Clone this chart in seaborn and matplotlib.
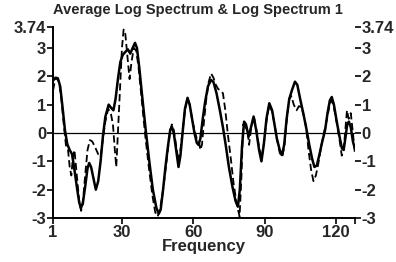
import matplotlib
matplotlib.use("Agg")
import matplotlib.pyplot as plt
import seaborn as sns
import pandas as pd

# --- data ---
avg_freq = [1, 2, 3, 4, 5, 6, 7, 8, 9, 10, 11, 12, 12.7, 13.5, 14.5, 15.5, 16.2, 17, 18,
            19, 20, 21, 22, 23, 24.4, 25.3, 26.4, 27.3, 28.3, 29.3, 30.3, 31.3, 32.5, 33.5,
            34.5, 35.5, 36.3, 37.3, 38.5, 40, 41.5, 43, 44.5, 45.5, 46.3, 47.3, 48.3, 49.3,
            50.3, 51, 51.8, 52.8, 53.8, 54.6, 55.5, 56.5, 57.6, 58.5, 59.5, 60.5, 61.5,
            62.2, 63, 64, 65, 66.2, 67.5, 68.5, 69.8, 71.2, 72.5, 73.8, 75, 76.5, 77.8,
            78.8, 79.6, 80.5, 81.4, 82.2, 83.3, 84.3, 85.4, 86.5, 87.7, 88.7, 89.7, 90.8,
            92, 93.2, 94.2, 95.2, 96.4, 97.4, 98.3, 99.3, 100.4, 101.5, 102.8, 103.8, 105,
            106.3, 107.5, 108.8, 110, 111, 112, 113, 114.3, 115.5, 116.5, 117.5, 118.3,
            119.2, 120.3, 121.5, 122.6, 123.3, 124, 124.8, 125.5, 126.3, 127.2, 128]
avg_vals = [1.85, 1.95, 1.93, 1.65, 0.9, 0.1, -0.4, -0.6, -0.75, -1.3, -1.9, -2.45, -2.65,
            -2.5, -1.9, -1.25, -1.06, -1.2, -1.6, -2.0, -1.7, -1.0, -0.1, 0.57, 1.0, 0.9,
            0.8, 1.2, 1.9, 2.5, 2.75, 2.85, 2.95, 2.8, 3.0, 3.18, 3.0, 2.3, 1.3, 0.1, -1.0,
            -2.0, -2.65, -2.85, -2.7, -2.0, -1.2, -0.5, 0.1, 0.22, 0.0, -0.6, -1.2, -0.8,
            0.0, 0.85, 1.24, 1.0, 0.5, 0.0, -0.35, -0.42, -0.2, 0.5, 1.1, 1.65, 1.87, 1.8,
            1.4, 0.8, 0.2, -0.5, -1.2, -1.9, -2.4, -2.6, -2.0, -0.5, 0.4, 0.3, -0.13, 0.2,
            0.58, 0.1, -0.6, -1.0, -0.4, 0.5, 1.05, 0.8, 0.3, -0.2, -0.6, -0.78, -0.4, 0.5,
            1.2, 1.5, 1.81, 1.7, 1.2, 0.7, 0.2, -0.4, -0.9, -1.2, -1.15, -0.8, -0.3, 0.1,
            0.7, 1.15, 1.27, 1.0, 0.45, -0.1, -0.55, -0.6, -0.2, 0.3, 0.4, 0.2, -0.3, -0.55]

spec1_freq = [1, 1.8, 2.6, 3.5, 4.5, 5.5, 6.5, 7.3, 8, 8.7, 9.3, 10, 11, 12, 12.8, 13.6,
              14.5, 15.5, 16.5, 17.5, 18.7, 20, 21, 22, 23, 24.2, 25.3, 26.2, 27, 27.6,
              28.3, 29.2, 30, 30.7, 31.4, 32.3, 33.2, 34, 35, 36, 37, 38.3, 39.8, 41.3,
              42.8, 44, 45, 46, 47, 48.2, 49.3, 50.3, 51, 51.8, 52.7, 53.8, 54.6, 55.5,
              56.5, 57.5, 58.5, 59.5, 60.5, 61.5, 62.3, 63, 63.7, 64.5, 65.5, 66.5, 67.5,
              68.5, 69.5, 70.5, 71.5, 72.5, 73.5, 74.5, 75.8, 77, 78.3, 79.5, 80.3, 81, 82,
              82.8, 83.5, 84.4, 85.5, 86.6, 87.7, 88.7, 89.7, 90.8, 92, 93.2, 94.2, 95.2,
              96.4, 97.4, 98.3, 99.3, 100.4, 101.3, 102.3, 103.5, 104.5, 105.5, 106.6,
              107.5, 108.5, 109.6, 110.6, 111.6, 112.6, 113.8, 115, 116.3, 117.5, 118.3,
              119.2, 120.3, 121.5, 122.5, 123.3, 124, 124.7, 125.4, 126.3, 127.2, 128]
spec1_vals = [1.5, 1.85, 1.95, 1.8, 1.2, 0.3, -0.5, -0.6, -1.2, -1.5, -0.9, -0.6, -1.5,
              -2.4, -2.75, -2.4, -1.5, -0.6, -0.25, -0.3, -0.5, -0.75, -0.85, -0.2, 0.4,
              0.85, 0.7, 0.3, -0.6, -1.2, 0.0, 1.6, 3.0, 3.65, 3.5, 2.7, 1.9, 2.5, 3.0, 2.9,
              2.3, 1.2, -0.1, -1.2, -2.2, -2.8, -2.95, -2.7, -2.2, -1.4, -0.6, 0.1, 0.3, 0.1,
              -0.4, -1.0, -0.6, 0.05, 0.8, 1.2, 1.0, 0.5, 0.1, -0.2, -0.25, -0.6, -0.4, 0.4,
              1.2, 1.8, 2.1, 1.95, 1.7, 1.55, 1.5, 1.4, 0.8, 0.0, -0.9, -1.8, -2.5, -2.95,
              -1.5, 0.3, 0.2, 0.1, -0.42, 0.2, 0.6, 0.1, -0.5, -0.9, -0.4, 0.4, 1.0, 0.75,
              0.3, -0.2, -0.7, -0.85, -0.5, 0.4, 1.2, 1.3, 1.0, 0.8, 0.95, 0.9, 0.6, 0.2,
              -0.6, -1.3, -1.7, -1.5, -1.1, -0.5, 0.0, 0.5, 1.05, 1.15, 0.9, 0.4, -0.2, -0.8,
              -0.6, 0.1, 0.8, 0.5, 0.7, 0.0, -0.7]

series_names = ["Average Log Spectrum", "Log Spectrum 1"]
x_ticks = [1, 30, 60, 90, 120, 128]
x_tick_labels = ["1", "30", "60", "90", "120", ""]
y_ticks = [3.74, 3, 2, 1, 0, -1, -2, -3]
y_tick_labels = ["3.74", "3", "2", "1", "0", "-1", "-2", "-3"]

df = pd.concat([
    pd.DataFrame({"Frequency": avg_freq, "Value": avg_vals, "Series": series_names[0]}),
    pd.DataFrame({"Frequency": spec1_freq, "Value": spec1_vals, "Series": series_names[1]}),
], ignore_index=True)

sns.set_style("ticks")
plt.rcParams['font.family'] = ['Liberation Sans', 'DejaVu Sans']
plt.rcParams['font.weight'] = 'bold'

fig = plt.figure(figsize=(3.96, 2.62), dpi=100)
ax = fig.add_axes([0.134, 0.168, 0.762, 0.729])

sns.lineplot(data=df, x="Frequency", y="Value", hue="Series", style="Series",
             palette=["black", "black"], dashes=[(None, None), (4, 2)],
             legend=False, ax=ax, estimator=None, sort=False)
lines = ax.get_lines()
lines[0].set_linewidth(1.8)
lines[0].set_solid_joinstyle('round')
lines[1].set_linewidth(1.3)
lines[1].set_linestyle((0, (4, 2)))

ax.axhline(0, color="black", lw=0.9)

ax.set_xlim(1, 128)
ax.set_ylim(-3, 3.74)
ax.set_xticks(x_ticks)
ax.set_xticklabels(x_tick_labels, fontsize=12, fontweight='bold')
ax.set_yticks(y_ticks)
ax.set_yticklabels(y_tick_labels, fontsize=12, fontweight='bold')
ax.tick_params(axis='both', direction='out', length=4, width=1.2, pad=1, color='black')
ax.set_xlabel("Frequency", fontsize=12, fontweight='bold', labelpad=-1)
ax.set_ylabel("")

for s in ["top", "right"]:
    ax.spines[s].set_visible(False)
for s in ["left", "bottom"]:
    ax.spines[s].set_linewidth(1.4)
    ax.spines[s].set_color("black")

ax2 = ax.twinx()
ax2.set_ylim(-3, 3.74)
ax2.set_yticks(y_ticks)
ax2.set_yticklabels(y_tick_labels, fontsize=12, fontweight='bold')
ax2.tick_params(axis='y', direction='out', length=4, width=1.2, pad=1, color='black')
for s in ["top", "right", "left", "bottom"]:
    ax2.spines[s].set_visible(False)

fig.suptitle("Average Log Spectrum & Log Spectrum 1", x=0.5, y=0.99,
             fontsize=10.5, fontweight='bold')

fig.savefig("out.png", dpi=100)
